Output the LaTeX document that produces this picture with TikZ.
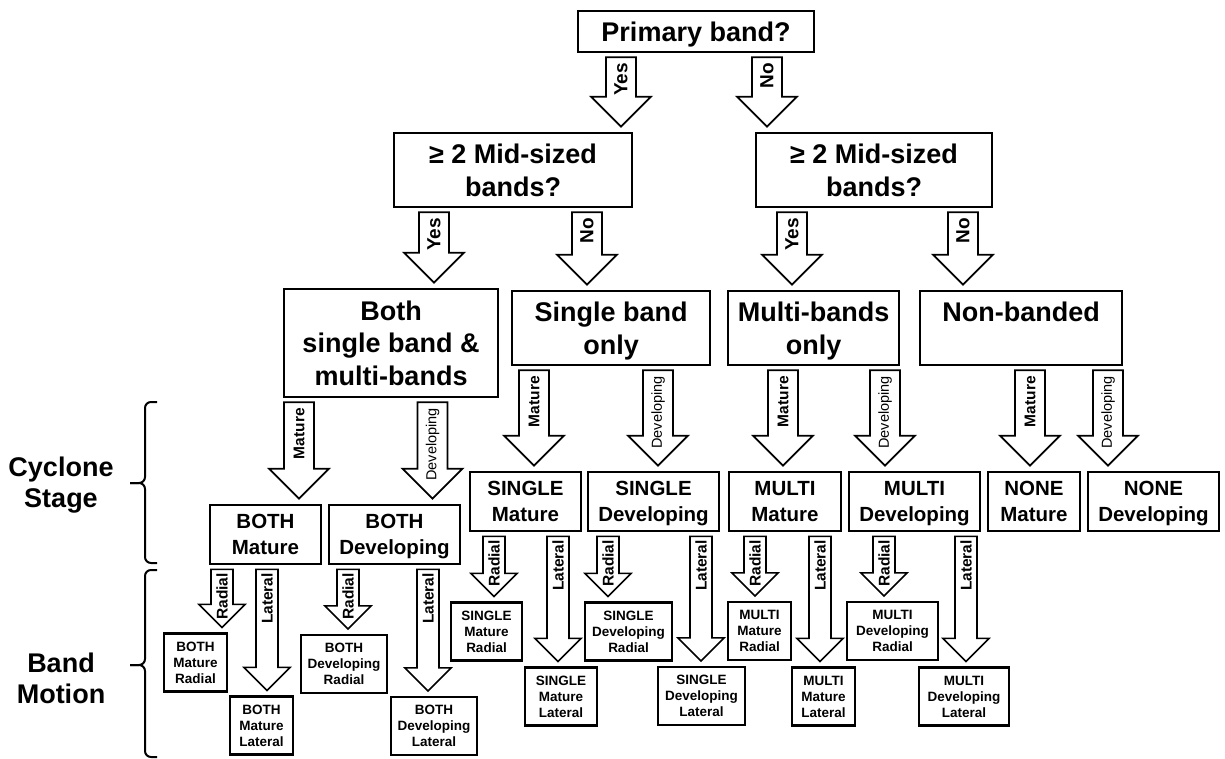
\documentclass[tikz,border=0pt]{standalone}
\usepackage{fontspec}
\setmainfont{Liberation Sans}
\usetikzlibrary{calc}

\begin{document}
\begin{tikzpicture}[x=1pt,y=-1pt]
    \tikzstyle{box}=[draw, line width=2.6pt, align=center, inner sep=0pt, text depth=0pt, font=\fontsize{27}{32.5}\selectfont\bfseries]
    \tikzstyle{stage}=[box, minimum height=59pt, font=\fontsize{20.5}{25.5}\selectfont\bfseries]
    \tikzstyle{motion}=[draw, line width=2.2pt, align=center, inner sep=0pt, text depth=0pt, minimum height=58pt, font=\fontsize{13.5}{16}\selectfont\bfseries]
    \tikzstyle{big arrow}=[draw, fill=white, line width=1.8pt, to path={let \p1=(\tikztostart), \p2=(\tikztotarget) in (\x1-15pt,\y1-4pt) -- (\x1-15pt,\y2+35pt) -- (\x1-30pt,\y2+35pt) -- (\x1,\y2+5pt) -- (\x1+30pt,\y2+35pt) -- (\x1+15pt,\y2+35pt) -- (\x1+15pt,\y1-4pt) -- cycle (\x1,\y1-9pt) -- (\x1,\y1-9pt) \tikztonodes}]
    \tikzstyle{small arrow}=[draw, fill=white, line width=1.6pt, to path={let \p1=(\tikztostart), \p2=(\tikztotarget) in (\x1-11pt,\y1-4pt) -- (\x1-11pt,\y2+28pt) -- (\x1-23pt,\y2+28pt) -- (\x1,\y2+5pt) -- (\x1+23pt,\y2+28pt) -- (\x1+11pt,\y2+28pt) -- (\x1+11pt,\y1-4pt) -- cycle (\x1,\y1-7pt) -- (\x1,\y1-7pt) \tikztonodes}]
    \tikzstyle{tag}=[rotate=90, anchor=east, inner sep=0pt, font=\fontsize{15.5}{16}\selectfont\bfseries]
    \tikzstyle{answer}=[tag, font=\fontsize{19}{20}\selectfont\bfseries]
    \tikzstyle{dev}=[tag, font=\fontsize{14.5}{15}\selectfont]
    \tikzstyle{side}=[align=center, font=\fontsize{27}{31}\selectfont\bfseries]
    \tikzstyle{curly}=[line width=2pt, rounded corners=6pt]

    \useasboundingbox (0,0) rectangle (1225,759);

    \node[box, minimum width=236pt, minimum height=41pt] (primary) at (696,31.5) {Primary band?};

    \node[box, minimum width=238pt, minimum height=74pt] (midyes) at (513,170) {≥ 2 Mid-sized\\bands?};
    \node[box, minimum width=236pt, minimum height=74pt] (midno) at (874,170) {≥ 2 Mid-sized\\bands?};

    \node[box, minimum width=214pt, minimum height=108pt] (both) at (391,343) {Both\\single band \&\\multi-bands};
    \node[box, minimum width=198pt, minimum height=74pt] (single) at (611,328) {Single band\\only};
    \node[box, minimum width=171pt, minimum height=74pt] (multi) at (813.5,328) {Multi-bands\\only};
    \node[box, minimum width=202pt, minimum height=74pt] (none) at (1021,328) {Non-banded\\\phantom{only}};

    \node[stage, minimum width=111pt] (bothmat) at (265.5,534.5) {BOTH\\Mature};
    \node[stage, minimum width=131pt] (bothdev) at (394.5,534.5) {BOTH\\Developing};
    \node[stage, minimum width=111pt] (singlemat) at (525.5,501.5) {SINGLE\\Mature};
    \node[stage, minimum width=131pt] (singledev) at (653.5,501.5) {SINGLE\\Developing};
    \node[stage, minimum width=112pt] (multimat) at (785,501.5) {MULTI\\Mature};
    \node[stage, minimum width=131pt] (multidev) at (914.5,501.5) {MULTI\\Developing};
    \node[stage, minimum width=92pt] (nonemat) at (1034,501.5) {NONE\\Mature};
    \node[stage, minimum width=131pt] (nonedev) at (1153.5,501.5) {NONE\\Developing};

    \node[motion, minimum width=63pt] (bmr) at (195.5,662.5) {BOTH\\Mature\\Radial};
    \node[motion, minimum width=63pt] (bml) at (261.5,725.5) {BOTH\\Mature\\Lateral};
    \node[motion, minimum width=86pt] (bdr) at (344,664) {BOTH\\Developing\\Radial};
    \node[motion, minimum width=86pt] (bdl) at (434,726) {BOTH\\Developing\\Lateral};
    \node[motion, minimum width=71pt] (smr) at (486.5,631.5) {SINGLE\\Mature\\Radial};
    \node[motion, minimum width=72pt] (sml) at (561,696.5) {SINGLE\\Mature\\Lateral};
    \node[motion, minimum width=87pt] (sdr) at (628.5,631.5) {SINGLE\\Developing\\Radial};
    \node[motion, minimum width=87pt] (sdl) at (701.5,696) {SINGLE\\Developing\\Lateral};
    \node[motion, minimum width=63pt] (mmr) at (759.5,631) {MULTI\\Mature\\Radial};
    \node[motion, minimum width=63pt] (mml) at (823.5,696.5) {MULTI\\Mature\\Lateral};
    \node[motion, minimum width=91pt] (mdr) at (892.5,631) {MULTI\\Developing\\Radial};
    \node[motion, minimum width=90pt] (mdl) at (964,696.5) {MULTI\\Developing\\Lateral};

    \draw[big arrow] (primary.south -| 621,0) to node[answer]{Yes} (midyes.north -| 621,0);
    \draw[big arrow] (primary.south -| 767,0) to node[answer]{No} (midno.north -| 767,0);
    \draw[big arrow] (midyes.south -| 434,0) to node[answer]{Yes} (both.north -| 434,0);
    \draw[big arrow] (midyes.south -| 587,0) to node[answer]{No} (single.north -| 587,0);
    \draw[big arrow] (midno.south -| 792,0) to node[answer]{Yes} (multi.north -| 792,0);
    \draw[big arrow] (midno.south -| 963,0) to node[answer]{No} (none.north -| 963,0);

    \draw[big arrow] (both.south -| 299,0) to node[tag]{Mature} (bothmat.north -| 299,0);
    \draw[big arrow] (both.south -| 432.5,0) to node[dev]{Developing} (bothdev.north -| 432.5,0);
    \draw[big arrow] (single.south -| 534,0) to node[tag]{Mature} (singlemat.north -| 534,0);
    \draw[big arrow] (single.south -| 658,0) to node[dev]{Developing} (singledev.north -| 658,0);
    \draw[big arrow] (multi.south -| 783,0) to node[tag]{Mature} (multimat.north -| 783,0);
    \draw[big arrow] (multi.south -| 885,0) to node[dev]{Developing} (multidev.north -| 885,0);
    \draw[big arrow] (none.south -| 1030,0) to node[tag]{Mature} (nonemat.north -| 1030,0);
    \draw[big arrow] (none.south -| 1108,0) to node[dev]{Developing} (nonedev.north -| 1108,0);

    \draw[small arrow] (bothmat.south -| 222,0) to node[tag]{Radial} (bmr.north -| 222,0);
    \draw[small arrow] (bothmat.south -| 267,0) to node[tag]{Lateral} (bml.north -| 267,0);
    \draw[small arrow] (bothdev.south -| 348,0) to node[tag]{Radial} (bdr.north -| 348,0);
    \draw[small arrow] (bothdev.south -| 428,0) to node[tag]{Lateral} (bdl.north -| 428,0);
    \draw[small arrow] (singlemat.south -| 494,0) to node[tag]{Radial} (smr.north -| 494,0);
    \draw[small arrow] (singlemat.south -| 558,0) to node[tag]{Lateral} (sml.north -| 558,0);
    \draw[small arrow] (singledev.south -| 608,0) to node[tag]{Radial} (sdr.north -| 608,0);
    \draw[small arrow] (singledev.south -| 701,0) to node[tag]{Lateral} (sdl.north -| 701,0);
    \draw[small arrow] (multimat.south -| 755,0) to node[tag]{Radial} (mmr.north -| 755,0);
    \draw[small arrow] (multimat.south -| 820,0) to node[tag]{Lateral} (mml.north -| 820,0);
    \draw[small arrow] (multidev.south -| 884,0) to node[tag]{Radial} (mdr.north -| 884,0);
    \draw[small arrow] (multidev.south -| 966,0) to node[tag]{Lateral} (mdl.north -| 966,0);

    \node[side] (cyclone) at (61,485) {Cyclone\\Stage};
    \node[side] (bandmotion) at (61,678) {Band\\Motion};
    \draw[curly] (157,402) -- (145,402) -- (145,483) -- (130,483);
    \draw[curly] (130,483) -- (145,483) -- (145,563) -- (157,563);
    \draw[curly] (157,570) -- (145,570) -- (145,665) -- (130,665);
    \draw[curly] (130,665) -- (145,665) -- (145,757) -- (157,757);
\end{tikzpicture}
\end{document}
